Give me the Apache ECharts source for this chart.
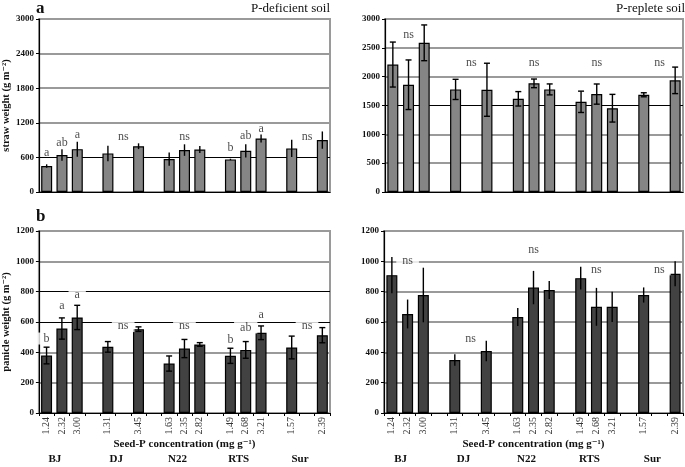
<!DOCTYPE html>
<html><head><meta charset="utf-8">
<script src="https://cdn.jsdelivr.net/npm/echarts@6/dist/echarts.min.js"></script>
<style>html,body{margin:0;padding:0;background:#fff}#c{width:685px;height:467px}</style>
</head><body><div id="c"></div>
<script>
// 19 category slots (blank slots separate the cultivars)
const seedP = ['1.24','2.32','3.00','','1.31','','3.45','','1.63','2.35','2.82','','1.49','2.68','3.21','','1.57','','2.39'];
const groups = ['BJ','DJ','N22','RTS','Sur'];
const groupSlots = [1,5,9,13,17];

// a: straw weight (g m-2)
const strawDef    = [450,640,743,null,669,null,794,null,571,727,738,null,565,715,929,null,756,null,900];
const strawDefErr = [30,100,130,null,135,null,50,null,115,100,60,null,12,115,70,null,150,null,150];
const strawRep    = [2210,1860,2587,null,1779,null,1773,null,1616,1884,1779,null,1564,1698,1453,null,1686,null,1936];
const strawRepErr = [390,430,310,null,175,null,460,null,125,75,95,null,185,175,240,null,35,null,230];
// b: panicle weight (g m-2)
const panDef    = [379,557,630,null,436,null,553,null,326,425,452,null,377,416,529,null,432,null,513];
const panDefErr = [55,70,80,null,35,null,15,null,50,60,12,null,50,55,45,null,75,null,50];
const panRep    = [909,653,778,null,349,null,409,null,633,827,811,null,889,700,700,null,778,null,918];
const panRepErr = [120,95,180,null,38,null,67,null,60,110,60,null,75,125,100,null,50,null,82];

// significance letters: [slot, value, text]
const lettersStrawDef = [[0,675,'a'],[1,848,'ab'],[2,992,'a'],[5,952,'ns'],[9,963,'ns'],[12,762,'b'],[13,975,'ab'],[14,1096,'a'],[17,963,'ns']];
const lettersStrawRep = [[1,2733,'ns'],[5,2238,'ns'],[9,2238,'ns'],[13,2238,'ns'],[17,2238,'ns']];
const lettersPanDef = [[0,491,'b'],[1,705,'a'],[2,782,'a'],[5,573,'ns'],[9,573,'ns'],[12,480,'b'],[13,564,'ab'],[14,650,'a'],[17,573,'ns']];
const lettersPanRep = [[1,1000,'ns'],[5,491,'ns'],[9,1078,'ns'],[13,947,'ns'],[17,947,'ns']];

const yTicks = [[0,3000,600],[0,3000,500],[0,1200,200],[0,1200,200]];
const blackLines = [[600],[1500],[600,800],[]];

const SERIF = "'Liberation Serif','DejaVu Serif',serif";
const grids = [
  {left:39, top:19, width:291, height:173},
  {left:385, top:19, width:298, height:173},
  {left:38, top:231, width:292, height:182},
  {left:384, top:231, width:299, height:182}
];
grids.forEach(g => { g.show = true; g.borderColor = '#9a9a9a'; g.borderWidth = 2; g.backgroundColor = 'transparent'; });

const xAxes = [0,1,2,3].map(i => ({
  type:'category', gridIndex:i, data:seedP,
  axisLine:{show:true, lineStyle:{color:'#000', width:1.2}},
  axisTick:{show:i>=2, interval:0, length:3, lineStyle:{color:'#000'}},
  axisLabel:{show:i>=2, interval:0, rotate:90, fontFamily:SERIF, fontSize:10, color:'#333', margin:4},
  name: i>=2 ? 'Seed-P concentration (mg g\u207B\u00B9)' : '',
  nameLocation:'middle', nameGap:21,
  nameTextStyle:{fontFamily:SERIF, fontWeight:'bold', fontSize:11, color:'#111'}
}));

function tickVals(t){ const a=[]; for(let v=t[0]; v<=t[1]; v+=t[2]) a.push(v); return a; }

const yAxes = [];
[0,1,2,3].forEach(i => {
  const t = yTicks[i];
  const cols = tickVals(t).map(v => blackLines[i].includes(v) ? 'rgba(0,0,0,0)' : '#9a9a9a');
  yAxes.push({
    type:'value', gridIndex:i, min:t[0], max:t[1], interval:t[2],
    axisLine:{show:true, lineStyle:{color:'#000', width:1.2}},
    axisTick:{show:true, length:3, lineStyle:{color:'#000'}},
    axisLabel:{fontFamily:SERIF, fontWeight:'bold', fontSize:9, color:'#111', margin:5, formatter:v=>String(v)},
    splitLine:{show:true, lineStyle:{color:cols, width:2}},
    name: i===0 ? 'straw weight (g m\u207B\u00B2)' : (i===2 ? 'panicle weight (g m\u207B\u00B2)' : ''),
    nameLocation:'middle', nameGap:25, nameRotate:90,
    nameTextStyle:{fontFamily:SERIF, fontWeight:'bold', fontSize:10.5, color:'#111'}
  });
});
[0,1,2,3].forEach(i => {
  const t = yTicks[i];
  const cols = tickVals(t).map(v => blackLines[i].includes(v) ? '#000' : 'rgba(0,0,0,0)');
  yAxes.push({
    type:'value', gridIndex:i, min:t[0], max:t[1], interval:t[2], position:'right',
    axisLine:{show:false}, axisTick:{show:false}, axisLabel:{show:false},
    splitLine:{show:true, lineStyle:{color:cols, width:1}}
  });
});

function errRender(cap){
  return function(params, api){
    const x = api.value(0), v = api.value(1), e = api.value(2);
    const hi = api.coord([x, v+e]), lo = api.coord([x, v-e]);
    const st = {stroke:'#000', lineWidth:1.4};
    const ch = [{type:'line', shape:{x1:hi[0],y1:hi[1],x2:lo[0],y2:lo[1]}, style:st}];
    if (cap > 0) {
      ch.push({type:'line', shape:{x1:hi[0]-cap,y1:hi[1],x2:hi[0]+cap,y2:hi[1]}, style:st});
      ch.push({type:'line', shape:{x1:lo[0]-cap,y1:lo[1],x2:lo[0]+cap,y2:lo[1]}, style:st});
    }
    return {type:'group', children:ch};
  };
}
function errData(vals, errs){
  const out=[]; vals.forEach((v,i)=>{ if(v!==null) out.push([i, v, errs[i]]); }); return out;
}

const panels = [
  {vals:strawDef, errs:strawDefErr, letters:lettersStrawDef, color:'#858585', cap:0, bg:false},
  {vals:strawRep, errs:strawRepErr, letters:lettersStrawRep, color:'#858585', cap:3, bg:false},
  {vals:panDef, errs:panDefErr, letters:lettersPanDef, color:'#424242', cap:3, bg:true},
  {vals:panRep, errs:panRepErr, letters:lettersPanRep, color:'#424242', cap:0, bg:true}
];
const series = [];
panels.forEach((p,i) => {
  series.push({type:'bar', xAxisIndex:i, yAxisIndex:i, data:p.vals, barWidth:11, z:2,
    itemStyle:{color:p.color, borderColor:'#000', borderWidth:1.2}, silent:true});
  series.push({type:'custom', xAxisIndex:i, yAxisIndex:i, data:errData(p.vals,p.errs),
    renderItem:errRender(p.cap), z:3, silent:true});
  series.push({type:'scatter', xAxisIndex:i, yAxisIndex:i, data:p.letters, symbolSize:0, z:5, silent:true,
    itemStyle:{color:'rgba(0,0,0,0)'},
    label:{show:true, position:'inside', formatter:d=>d.data[2], fontFamily:SERIF, fontSize:12, color:'#222',
      backgroundColor: p.bg ? '#fff' : 'transparent', padding: p.bg ? [0,6] : 0}});
});

const chart = echarts.init(document.getElementById('c'), null, {renderer:'canvas'});
const option = {
  animation:false, backgroundColor:'#fff',
  grid:grids, xAxis:xAxes, yAxis:yAxes, series:series,
  graphic:[
    {type:'text', left:36, top:0, style:{text:'a', font:"bold 17px "+SERIF, fill:'#111'}},
    {type:'text', left:36, top:208, style:{text:'b', font:"bold 17px "+SERIF, fill:'#111'}},
    {type:'text', right:355, top:2, style:{text:'P-deficient soil', font:"13px "+SERIF, fill:'#111'}},
    {type:'text', right:0, top:2, style:{text:'P-replete soil', font:"13px "+SERIF, fill:'#111'}}
  ]
};
chart.setOption(option);

const extra = [];
[2,3].forEach(ax => {
  groups.forEach((g,j) => {
    const px = chart.convertToPixel({xAxisIndex:ax}, groupSlots[j]) - 7;
    extra.push({type:'text', x:px, y:454, style:{text:g, font:"bold 11px "+SERIF, fill:'#111', textAlign:'center'}});
  });
});
chart.setOption({graphic: option.graphic.concat(extra)});
</script></body></html>
